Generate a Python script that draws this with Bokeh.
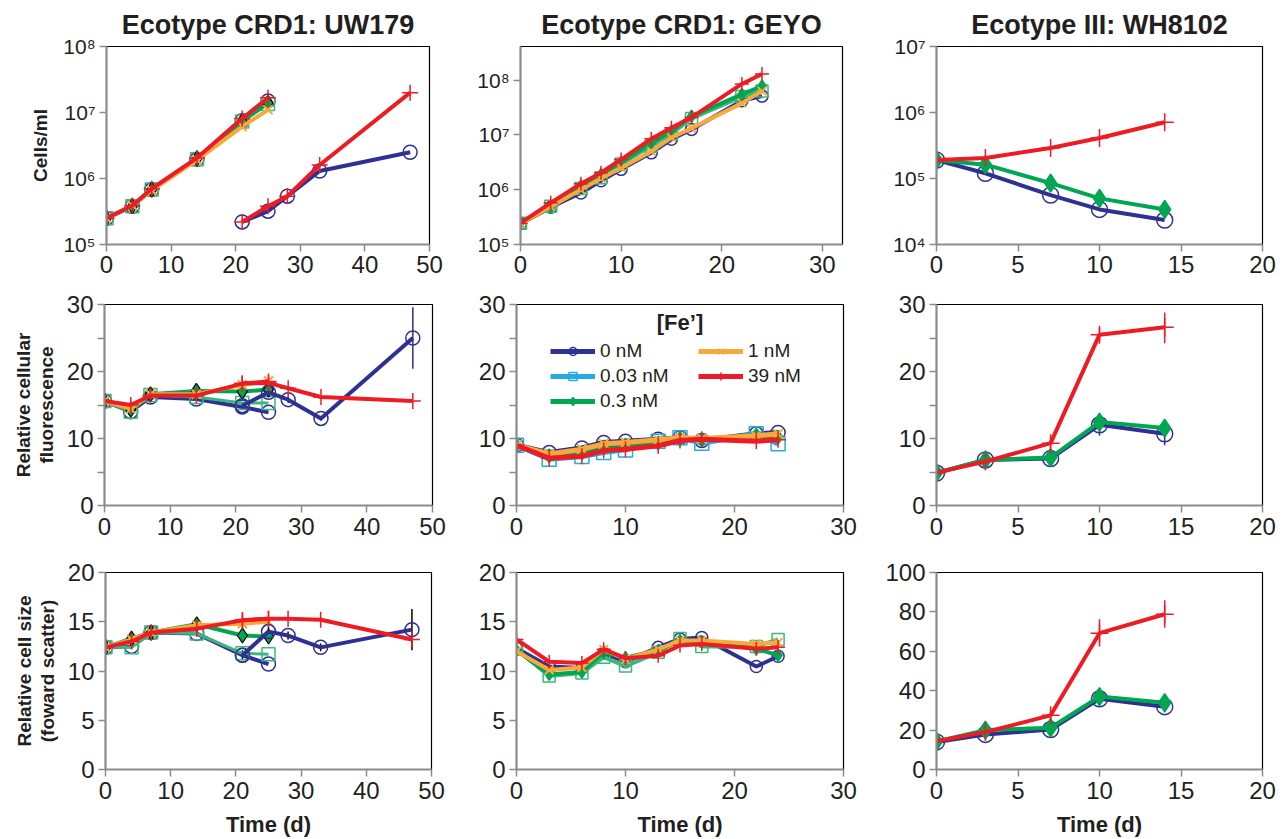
from bokeh.plotting import figure
from bokeh.layouts import column, row
from bokeh.models import (FixedTicker, CustomJSTickFormatter, Legend, LegendItem,
                          Label, Range1d)
from bokeh.embed import file_html
from bokeh.resources import INLINE

# ---------------- data ----------------
conc_labels = ["0 nM", "0.03 nM", "0.3 nM", "1 nM", "39 nM"]
panel_titles = ["Ecotype CRD1: UW179", "Ecotype CRD1: GEYO", "Ecotype III: WH8102"]
y_titles = ["Cells/ml", "Relative cellular\nfluorescence", "Relative cell size\n(foward scatter)"]
x_title = "Time (d)"
legend_title = "[Fe\u2019]"

# UW179: first culture (all Fe levels) and second culture (0 and 39 nM)
uw_t1 = [0, 4, 7, 14, 21, 25]
uw_t2 = [21, 25, 28, 33, 47]
uw_cells_0 = [2.5e5, 3.8e5, 6.8e5, 1.95e6, 7.5e6, 1.5e7]
uw_cells_003 = [2.5e5, 3.8e5, 6.8e5, 1.95e6, 7.3e6, 1.35e7]
uw_cells_03 = [2.5e5, 3.8e5, 6.8e5, 2.0e6, 7.4e6, 1.4e7]
uw_cells_1 = [2.5e5, 3.9e5, 6.6e5, 1.9e6, 6.1e6, 1.1e7]
uw_cells_39 = [2.5e5, 3.9e5, 7.0e5, 2.05e6, 8.1e6, 1.67e7]
uw_cells_0b = [2.2e5, 3.2e5, 5.4e5, 1.3e6, 2.5e6]
uw_cells_39b = [2.2e5, 3.8e5, 5.4e5, 1.6e6, 2.0e7]

uw_fl_0 = [15.6, 14.0, 16.2, 15.9, 14.7, 13.9]
uw_fl_003 = [15.6, 14.0, 16.5, 16.2, 15.3, 15.3]
uw_fl_03 = [15.6, 14.3, 16.6, 17.1, 17.0, 17.3]
uw_fl_1 = [15.6, 14.4, 16.6, 16.6, 18.0, 18.6]
uw_fl_39 = [15.6, 15.0, 16.4, 16.4, 18.2, 18.5]
uw_fl_0b = [14.9, 16.9, 15.8, 13.0, 25.0]
uw_fl_39b = [18.2, 18.3, 17.5, 16.2, 15.6]
uw_fl_0b_lo = [14.4, 16.4, 15.3, 12.6, 20.4]
uw_fl_0b_hi = [15.4, 17.4, 16.3, 13.4, 29.6]

uw_sz_0 = [12.4, 12.5, 13.9, 13.8, 11.6, 10.7]
uw_sz_003 = [12.4, 12.4, 13.9, 13.8, 11.8, 11.7]
uw_sz_03 = [12.4, 13.3, 13.9, 14.75, 13.6, 13.5]
uw_sz_1 = [12.4, 13.2, 13.9, 14.65, 14.8, 15.0]
uw_sz_39 = [12.4, 13.0, 13.9, 14.3, 15.15, 15.3]
uw_sz_0b = [11.6, 14.0, 13.6, 12.4, 14.2]
uw_sz_39b = [15.15, 15.3, 15.3, 15.2, 13.2]
uw_sz_0b_lo = [11.1, 13.5, 13.2, 12.0, 12.1]
uw_sz_0b_hi = [12.1, 14.5, 14.0, 12.8, 16.3]

# GEYO
ge_t = [0, 3, 6, 8, 10, 13, 15, 17, 22, 24]
ge_cells_0 = [2.4e5, 4.8e5, 8.7e5, 1.45e6, 2.35e6, 4.7e6, 8.3e6, 1.26e7, 4.2e7, 5.1e7]
ge_cells_003 = [2.45e5, 5.0e5, 1.05e6, 1.66e6, 2.95e6, 6.3e6, 1.05e7, 2.0e7, 5.0e7, 6.3e7]
ge_cells_03 = [2.45e5, 4.7e5, 1.17e6, 1.9e6, 3.16e6, 7.1e6, 1.17e7, 2.19e7, 5.5e7, 7.8e7]
ge_cells_1 = [2.4e5, 4.9e5, 1.0e6, 1.6e6, 2.5e6, 5.0e6, 8.9e6, 1.32e7, 3.8e7, 6.3e7]
ge_cells_39 = [2.45e5, 5.75e5, 1.29e6, 2.04e6, 3.55e6, 8.5e6, 1.35e7, 2.09e7, 8.5e7, 1.29e8]

ge_fl_0 = [9.0, 7.9, 8.6, 9.4, 9.6, 9.9, 10.1, 9.7, 10.7, 10.9]
ge_fl_003 = [9.0, 6.9, 7.3, 7.9, 8.3, 9.6, 10.1, 9.3, 10.7, 9.2]
ge_fl_03 = [9.0, 7.4, 7.9, 8.7, 9.0, 9.3, 10.0, 9.8, 10.5, 10.2]
ge_fl_1 = [9.0, 7.7, 8.4, 9.2, 9.4, 9.8, 10.1, 10.0, 10.4, 10.7]
ge_fl_39 = [9.0, 7.05, 7.35, 8.2, 8.4, 8.9, 9.7, 9.9, 9.6, 9.8]

ge_sz_0 = [12.3, 10.45, 10.3, 11.8, 10.95, 12.4, 13.25, 13.4, 10.45, 11.5]
ge_sz_003 = [12.2, 9.5, 9.8, 11.4, 10.5, 11.9, 13.3, 12.5, 12.5, 13.2]
ge_sz_03 = [12.1, 9.65, 9.9, 11.9, 11.35, 12.1, 13.1, 13.0, 12.25, 11.6]
ge_sz_1 = [12.0, 10.1, 10.35, 12.2, 11.2, 12.2, 13.1, 13.1, 12.75, 12.9]
ge_sz_39 = [13.2, 10.95, 10.8, 12.2, 11.3, 11.55, 12.6, 12.75, 12.25, 12.4]

# WH8102 (0, 0.3 and 39 nM only)
wh_t = [0, 3, 7, 10, 14]
wh_cells_0 = [1.9e5, 1.2e5, 5.6e4, 3.4e4, 2.35e4]
wh_cells_03 = [1.9e5, 1.62e5, 8.5e4, 5.0e4, 3.4e4]
wh_cells_39 = [1.9e5, 2.04e5, 2.9e5, 4.1e5, 7.1e5]

wh_fl_0 = [4.85, 6.8, 7.0, 12.05, 10.7]
wh_fl_03 = [4.9, 6.8, 7.15, 12.45, 11.55]
wh_fl_39 = [4.9, 6.55, 9.3, 25.5, 26.6]
wh_fl_0_lo = [4.5, 6.3, 6.6, 10.4, 9.0]
wh_fl_0_hi = [5.2, 7.3, 7.4, 13.7, 11.9]
wh_fl_39_lo = [4.5, 5.8, 8.5, 24.5, 24.2]
wh_fl_39_hi = [5.3, 7.3, 10.2, 26.5, 28.8]

wh_sz_0 = [14.0, 17.8, 20.3, 35.9, 31.9]
wh_sz_03 = [14.2, 20.0, 21.2, 37.0, 33.9]
wh_sz_39 = [14.4, 19.0, 27.5, 69.2, 78.8]
wh_sz_0_hi = [15.0, 18.8, 21.3, 37.5, 34.5]
wh_sz_0_lo = [13.0, 16.8, 19.3, 34.3, 29.0]
wh_sz_39_lo = [13.4, 17.5, 25.5, 62.4, 72.0]
wh_sz_39_hi = [15.4, 20.5, 29.5, 76.3, 85.9]

# ---------------- styles ----------------
FONT = "Liberation Sans"
AXC = "#8c8c8c"
NAVY = "#2e3192"
CYAN = "#27aae1"
SEA = "#3db77b"
GREEN = "#00a651"
ORANGE = "#f9a83b"
RED = "#ed1c24"

# (min_border_left, frame_width, min_border_right) per column and row
COLG = [
    [(106, 323, 21), (104, 328, 18), (105, 326, 19)],
    [(70, 322, 20), (66, 327, 19), (66, 327, 19)],
    [(74, 326, 14), (74, 326, 14), (74, 326, 14)],
]
# (min_border_top, frame_height, min_border_bottom) per row
ROWG = [(46, 198, 38), (22, 201, 45), (22, 197, 68)]

log_fmt = CustomJSTickFormatter(code="""
const sup = ['\u2070','\u00b9','\u00b2','\u00b3','\u2074','\u2075','\u2076','\u2077','\u2078','\u2079'];
const e = Math.round(Math.log10(tick));
return '10' + String(e).split('').map(d => sup[parseInt(d)]).join('');
""")


def make_fig(ci, ri, x_end, xticks, y0, y1, yticks, log=False, yminor=None):
    L, F, R = COLG[ci][ri]
    T, H, B = ROWG[ri]
    p = figure(frame_width=F, frame_height=H, min_border_left=L, min_border_right=R,
               min_border_top=T, min_border_bottom=B,
               x_range=Range1d(0, x_end), y_range=Range1d(y0, y1),
               y_axis_type="log" if log else "linear",
               output_backend="svg", toolbar_location=None)
    p.background_fill_color = "white"
    p.border_fill_color = "white"
    p.outline_line_color = "black"
    p.outline_line_width = 1.2
    p.xgrid.visible = False
    p.ygrid.visible = False
    if ri == 0:
        p.title.text = panel_titles[ci]
        p.title.align = "center"
        p.title.text_font = FONT
        p.title.text_font_size = "27px"
        p.title.text_font_style = "bold"
        p.title.text_color = "#231f20"
        p.title.standoff = 13
    for ax in (p.xaxis[0], p.yaxis[0]):
        ax.axis_line_color = AXC
        ax.axis_line_width = 2
        ax.major_tick_line_color = AXC
        ax.major_tick_line_width = 1.5
        ax.major_tick_out = 7
        ax.major_tick_in = 0
        ax.minor_tick_line_color = None
        ax.major_label_text_font = FONT
        ax.major_label_text_font_size = "24px"
        ax.major_label_text_color = "#231f20"
        ax.axis_label_text_font = FONT
        ax.axis_label_text_font_style = "bold"
        ax.axis_label_text_color = "#231f20"
    p.xaxis[0].ticker = FixedTicker(ticks=xticks)
    p.xaxis[0].major_label_standoff = 4 if ri == 0 else 5
    if yminor:
        p.yaxis[0].ticker = FixedTicker(ticks=yticks, minor_ticks=yminor)
        p.yaxis[0].minor_tick_line_color = AXC
        p.yaxis[0].minor_tick_line_width = 1.5
        p.yaxis[0].minor_tick_out = 7
        p.yaxis[0].minor_tick_in = 0
    else:
        p.yaxis[0].ticker = FixedTicker(ticks=yticks)
    p.yaxis[0].major_label_standoff = 4
    if log:
        p.yaxis[0].formatter = log_fmt
        p.yaxis[0].major_label_text_font_size = "21px"
    if ci == 0:
        p.yaxis[0].axis_label = y_titles[ri]
        p.yaxis[0].axis_label_text_font_size = "19px"
        p.yaxis[0].axis_label_text_line_height = 1.1
        p.yaxis[0].axis_label_standoff = 9 if ri == 0 else 7
    if ri == 2:
        p.xaxis[0].axis_label = x_title
        p.xaxis[0].axis_label_text_font_size = "22px"
        p.xaxis[0].axis_label_standoff = 10
    return p


def draw(p, t, y, color, marker, size, lw=4, fill=None, mline=None, mlw=1.5):
    ln = p.line(t, y, line_color=color, line_width=lw)
    sc = p.scatter(t, y, marker=marker, size=size, line_color=mline or color,
                   fill_color=fill, line_width=mlw)
    return [ln, sc]


def errbar(p, t, lo, hi, color, w=1.5):
    p.segment(x0=t, y0=lo, x1=t, y1=hi, line_color=color, line_width=w)


def uw_panel(p, ys, yb, sq_color):
    draw(p, uw_t1, ys[0], NAVY, "circle", 14)
    draw(p, uw_t1, ys[1], sq_color, "square", 13, lw=3)
    draw(p, uw_t1, ys[2], GREEN, "diamond", 15, fill=GREEN, mline="black", mlw=1.2)
    draw(p, uw_t1, ys[3], ORANGE, "x", 13, mlw=2)
    draw(p, uw_t1, ys[4], RED, "cross", 16)
    draw(p, uw_t2, yb[0], NAVY, "circle", 14)
    draw(p, uw_t2, yb[1], RED, "cross", 16)


def ge_panel(p, ys, sq_color, lw=4, big=False):
    s = 14 if big else 12
    r0 = draw(p, ge_t, ys[0], NAVY, "circle", s, lw=lw)
    r1 = draw(p, ge_t, ys[1], sq_color, "square", s, lw=lw)
    r2 = draw(p, ge_t, ys[2], GREEN, "diamond", s, fill=GREEN, lw=lw)
    r3 = draw(p, ge_t, ys[3], ORANGE, "x", s, mlw=2, lw=lw)
    r4 = draw(p, ge_t, ys[4], RED, "cross", s + 2, lw=lw)
    return [r0, r1, r2, r3, r4]


def wh_panel(p, ys):
    draw(p, wh_t, ys[0], NAVY, "circle", 16)
    draw(p, wh_t, ys[1], GREEN, "diamond", 18, fill=GREEN)
    draw(p, wh_t, ys[2], RED, "cross", 18)


# ---------------- row 1: cells/ml ----------------
p11 = make_fig(0, 0, 50, [0, 10, 20, 30, 40, 50], 1e5, 1e8, [1e5, 1e6, 1e7, 1e8], log=True)
uw_panel(p11, [uw_cells_0, uw_cells_003, uw_cells_03, uw_cells_1, uw_cells_39],
         [uw_cells_0b, uw_cells_39b], SEA)

p12 = make_fig(1, 0, 32, [0, 10, 20, 30], 1e5, 4.1e8, [1e5, 1e6, 1e7, 1e8], log=True)
ge_panel(p12, [ge_cells_0, ge_cells_003, ge_cells_03, ge_cells_1, ge_cells_39], SEA)

p13 = make_fig(2, 0, 20, [0, 5, 10, 15, 20], 1e4, 1e7, [1e4, 1e5, 1e6, 1e7], log=True)
wh_panel(p13, [wh_cells_0, wh_cells_03, wh_cells_39])

# ---------------- row 2: fluorescence ----------------
p21 = make_fig(0, 1, 50, [0, 10, 20, 30, 40, 50], 0, 30, [0, 10, 20, 30], yminor=[5, 15, 25])
errbar(p21, uw_t2, uw_fl_0b_lo, uw_fl_0b_hi, NAVY)
uw_panel(p21, [uw_fl_0, uw_fl_003, uw_fl_03, uw_fl_1, uw_fl_39], [uw_fl_0b, uw_fl_39b], SEA)

p22 = make_fig(1, 1, 30, [0, 10, 20, 30], 0, 30, [0, 10, 20, 30], yminor=[5, 15, 25])
rs = ge_panel(p22, [ge_fl_0, ge_fl_003, ge_fl_03, ge_fl_1, ge_fl_39], CYAN, lw=5, big=True)
legend = Legend(items=[LegendItem(label=lab, renderers=r) for lab, r in zip(conc_labels, rs)],
                location=(34, 93), orientation="vertical", nrows=3,
                glyph_width=45, glyph_height=20, label_standoff=5, label_width=95,
                spacing=3, padding=0, margin=0,
                label_text_font=FONT, label_text_font_size="19px",
                label_text_color="#231f20",
                background_fill_alpha=0, border_line_color=None)
p22.add_layout(legend)
p22.add_layout(Label(x=15, y=27.3, text=legend_title, text_align="center",
                     text_baseline="middle", text_font=FONT, text_font_size="22px",
                     text_font_style="bold", text_color="#231f20"))

p23 = make_fig(2, 1, 20, [0, 5, 10, 15, 20], 0, 30, [0, 10, 20, 30], yminor=[5, 15, 25])
errbar(p23, wh_t, wh_fl_0_lo, wh_fl_0_hi, NAVY)
errbar(p23, wh_t, wh_fl_39_lo, wh_fl_39_hi, RED)
wh_panel(p23, [wh_fl_0, wh_fl_03, wh_fl_39])

# ---------------- row 3: cell size ----------------
p31 = make_fig(0, 2, 50, [0, 10, 20, 30, 40, 50], 0, 20, [0, 5, 10, 15, 20])
errbar(p31, uw_t2, uw_sz_0b_lo, uw_sz_0b_hi, "black")
uw_panel(p31, [uw_sz_0, uw_sz_003, uw_sz_03, uw_sz_1, uw_sz_39], [uw_sz_0b, uw_sz_39b], SEA)

p32 = make_fig(1, 2, 30, [0, 10, 20, 30], 0, 20, [0, 5, 10, 15, 20])
ge_panel(p32, [ge_sz_0, ge_sz_003, ge_sz_03, ge_sz_1, ge_sz_39], SEA)

p33 = make_fig(2, 2, 20, [0, 5, 10, 15, 20], 0, 100, [0, 20, 40, 60, 80, 100])
errbar(p33, wh_t, wh_sz_0_lo, wh_sz_0_hi, NAVY)
errbar(p33, wh_t, wh_sz_39_lo, wh_sz_39_hi, RED)
wh_panel(p33, [wh_sz_0, wh_sz_03, wh_sz_39])

layout = column(row(p11, p12, p13), row(p21, p22, p23), row(p31, p32, p33))

open("out.html", "w").write(file_html(layout, INLINE))
